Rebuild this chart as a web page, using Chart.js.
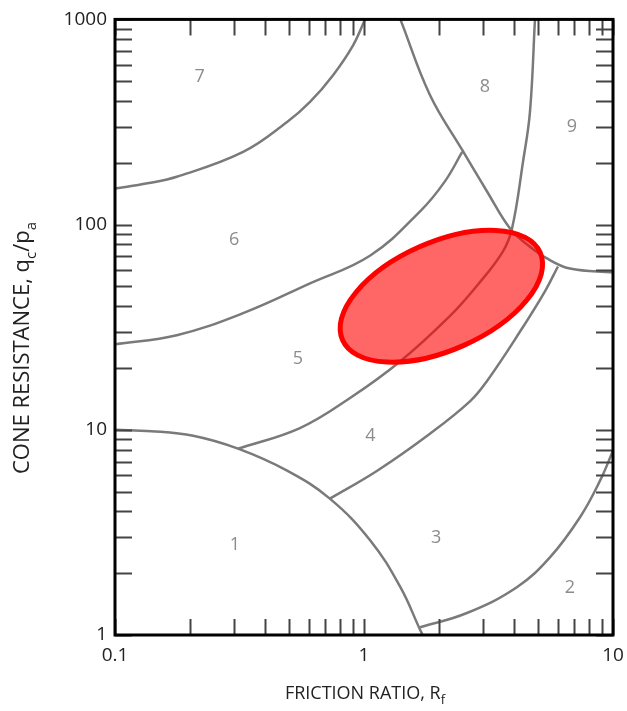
<!DOCTYPE html>
<html>
<head>
<meta charset="utf-8">
<script src="https://cdn.jsdelivr.net/npm/chart.js@4.4.0/dist/chart.umd.min.js"></script>
<style>
  html, body { margin: 0; padding: 0; background: #fff; }
  #wrap { width: 627px; height: 711px; }
</style>
</head>
<body>
<div id="wrap"><canvas id="chart-sbt"></canvas></div>
<script>
// boundaries of the zones (Rf in %, qc/pa)
const zone1Rf = [0.1, 0.14, 0.206, 0.312, 0.491, 0.729, 1.06, 1.40, 1.68, 1.72]
const zone1Qc = [10, 9.85, 9.35, 8.09, 6.32, 4.62, 2.89, 1.71, 1.06, 1]

const zone45Rf = [0.312, 0.553, 0.879, 1.40, 2.21, 2.87, 3.61, 3.93, 4.35, 4.64, 4.86]
const zone45Qc = [8.09, 10.2, 14.3, 21.6, 35.8, 51.1, 73.9, 95.6, 202, 354, 1000]

const zone34Rf = [0.729, 1.13, 1.84, 2.67, 3.12, 4.24, 5.33, 6.01]
const zone34Qc = [4.62, 6.32, 9.57, 13.8, 17.3, 30.2, 47.3, 62.5]

const zone23Rf = [1.68, 2.59, 4.11, 5.58, 7.36, 8.87, 10]
const zone23Qc = [1.09, 1.28, 1.71, 2.39, 3.74, 5.65, 7.9]

const zone56Rf = [0.1, 0.177, 0.327, 0.607, 1.06, 1.68, 2.11, 2.48]
const zone56Qc = [26.1, 28.9, 37.0, 51.7, 70.7, 116, 162, 226]

const zone67Rf = [0.1, 0.135, 0.177, 0.327, 0.491, 0.607, 0.751, 0.904, 1.01]
const zone67Qc = [150, 159, 171, 226, 316, 396, 535, 748, 1000]

const zone89Rf = [1.40, 1.84, 2.48, 3.12, 3.86, 4.52, 5.43, 6.71, 10]
const zone89Qc = [1000, 428, 231, 145, 95.6, 80, 68.4, 61.1, 58.5]

// zone numbers
const zoneNames = ['1', '2', '3', '4', '5', '6', '7', '8', '9']
const zoneRf = [0.303, 6.71, 1.95, 1.06, 0.543, 0.301, 0.219, 3.06, 6.84]
const zoneQc = [2.74, 1.69, 2.96, 9.35, 22.1, 84.6, 523, 468, 299]

// red ellipse: ends of the long axis and one end of the short axis
const ellipseMajor = [[0.82, 27.4], [5.1, 73.1]]
const ellipseMinor = [1.67, 77.9]

// ticks
const xTicks = [0.1, 0.2, 0.3, 0.4, 0.5, 0.6, 0.7, 0.8, 0.9, 1, 2, 3, 4, 5, 6, 7, 8, 9, 10]
const yTicks = [1, 2, 3, 4, 5, 6, 7, 8, 9, 10, 20, 30, 40, 50, 60, 70, 80, 90,
                100, 200, 300, 400, 500, 600, 700, 800, 900, 1000]
const xLabels = [0.1, 1, 10]
const yLabels = [1, 10, 100, 1000]

const curves = [
  [zone1Rf, zone1Qc], [zone45Rf, zone45Qc], [zone34Rf, zone34Qc], [zone23Rf, zone23Qc],
  [zone56Rf, zone56Qc], [zone67Rf, zone67Qc], [zone89Rf, zone89Qc]
]

const toPoints = (xs, ys) => xs.map((v, i) => ({x: v, y: ys[i]}))

// text with subscripts, parts = [[text, isSub], ...]
const drawSubText = (ctx, parts, cx, cy, size) => {
  const big = size + 'px "Open Sans"', small = Math.round(size * 0.7) + 'px "Open Sans"'
  let total = 0
  parts.forEach(p => { ctx.font = p[1] ? small : big; total += ctx.measureText(p[0]).width })
  let xx = cx - total / 2
  ctx.textAlign = 'left'
  ctx.textBaseline = 'alphabetic'
  parts.forEach(p => {
    ctx.font = p[1] ? small : big
    ctx.fillText(p[0], xx, p[1] ? cy + size * 0.3 : cy)
    xx += ctx.measureText(p[0]).width
  })
}

const sbtExtras = {
  id: 'sbtExtras',
  afterDatasetsDraw(chart) {
    const {ctx, chartArea: a, scales: {x, y}} = chart
    ctx.save()

    // zone numbers
    ctx.fillStyle = '#8c8c8c'
    ctx.font = '18px "Open Sans"'
    ctx.textAlign = 'center'
    ctx.textBaseline = 'middle'
    zoneNames.forEach((n, i) => {
      ctx.fillText(n, x.getPixelForValue(zoneRf[i]), y.getPixelForValue(zoneQc[i]))
    })

    // ellipse
    const x1 = x.getPixelForValue(ellipseMajor[0][0]), y1 = y.getPixelForValue(ellipseMajor[0][1])
    const x2 = x.getPixelForValue(ellipseMajor[1][0]), y2 = y.getPixelForValue(ellipseMajor[1][1])
    const mx = x.getPixelForValue(ellipseMinor[0]), my = y.getPixelForValue(ellipseMinor[1])
    const cx = (x1 + x2) / 2, cy = (y1 + y2) / 2
    ctx.beginPath()
    ctx.ellipse(cx, cy, Math.hypot(x2 - x1, y2 - y1) / 2, Math.hypot(mx - cx, my - cy),
      Math.atan2(y2 - y1, x2 - x1), 0, Math.PI * 2)
    ctx.fillStyle = 'rgba(255,0,0,0.6)'
    ctx.fill()
    ctx.lineWidth = 5
    ctx.strokeStyle = '#ff0000'
    ctx.stroke()

    // inward ticks on all four sides
    ctx.strokeStyle = '#444'
    ctx.lineWidth = 2
    ctx.beginPath()
    xTicks.forEach(v => {
      const px = Math.round(x.getPixelForValue(v)) + 0.5
      ctx.moveTo(px, a.bottom); ctx.lineTo(px, a.bottom - 16)
      ctx.moveTo(px, a.top); ctx.lineTo(px, a.top + 16)
    })
    yTicks.forEach(v => {
      const py = Math.round(y.getPixelForValue(v)) + 0.5
      ctx.moveTo(a.left, py); ctx.lineTo(a.left + 17, py)
      ctx.moveTo(a.right, py); ctx.lineTo(a.right - 17, py)
    })
    ctx.stroke()

    // frame
    ctx.strokeStyle = '#000'
    ctx.lineWidth = 3
    ctx.strokeRect(a.left, a.top, a.right - a.left, a.bottom - a.top)

    // axis titles
    ctx.fillStyle = '#222'
    drawSubText(ctx, [['FRICTION RATIO, R', false], ['f', true]], 365, 699, 18)
    ctx.translate(29, 348)
    ctx.rotate(-Math.PI / 2)
    drawSubText(ctx, [['CONE RESISTANCE, q', false], ['c', true], ['/p', false], ['a', true]], 0, 0, 22)

    ctx.restore()
  }
}

const ctx = document.getElementById('chart-sbt').getContext('2d')

let graficoSbt = new Chart(ctx, {
  type: 'scatter',
  data: {
    datasets: curves.map(c => ({
      data: toPoints(c[0], c[1]),
      showLine: true,
      borderColor: '#7a7a7a',
      borderWidth: 2.5,
      pointRadius: 0,
      tension: 0.4,
      fill: false
    }))
  },
  options: {
    responsive: true,
    maintainAspectRatio: false,
    animation: false,
    layout: { padding: { top: 17, right: 14, left: 0, bottom: 0 } },
    plugins: { legend: { display: false }, tooltip: { enabled: false } },
    scales: {
      x: {
        type: 'logarithmic',
        min: 0.1,
        max: 10,
        grid: { display: false, drawTicks: false },
        border: { display: false },
        afterBuildTicks: (scale) => { scale.ticks = xTicks.map(v => ({value: v})) },
        afterFit: (scale) => {
          scale.height = 76
          scale.paddingLeft = 0
          scale.paddingRight = 0
        },
        ticks: {
          autoSkip: false,
          maxRotation: 0,
          padding: 9,
          color: '#222',
          font: { family: 'Open Sans', size: 19 },
          callback: (v) => xLabels.includes(v) ? String(v) : ''
        }
      },
      y: {
        type: 'logarithmic',
        min: 1,
        max: 1000,
        grid: { display: false, drawTicks: false },
        border: { display: false },
        afterBuildTicks: (scale) => { scale.ticks = yTicks.map(v => ({value: v})) },
        afterFit: (scale) => { scale.width = 115 },
        ticks: {
          autoSkip: false,
          padding: 8,
          color: '#222',
          font: { family: 'Open Sans', size: 19 },
          callback: (v) => yLabels.includes(v) ? String(v) : ''
        }
      }
    }
  },
  plugins: [sbtExtras]
})
</script>
</body>
</html>
